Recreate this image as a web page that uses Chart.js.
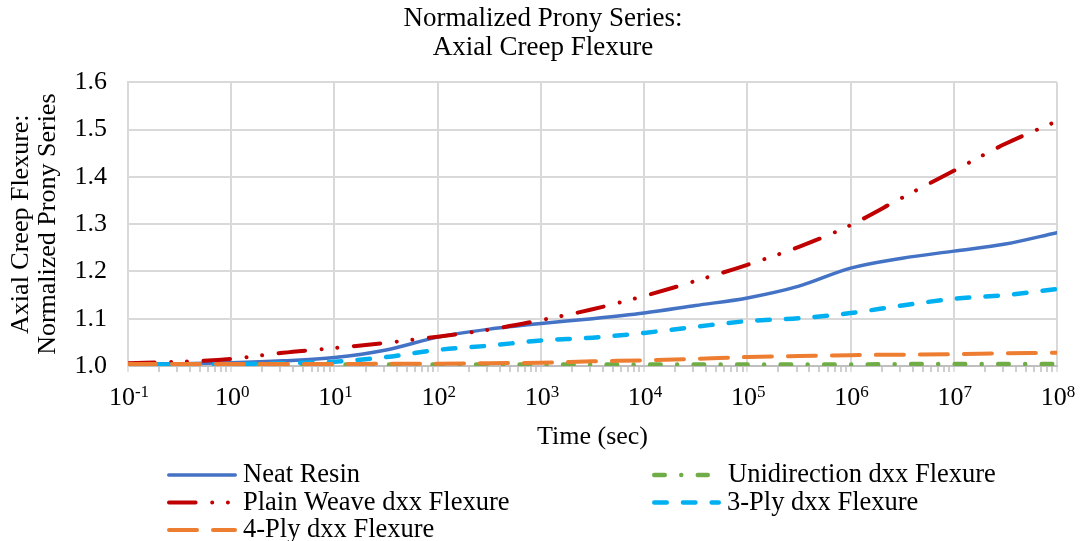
<!DOCTYPE html>
<html>
<head>
<meta charset="utf-8">
<script src="https://cdn.jsdelivr.net/npm/chart.js@4.4.1/dist/chart.umd.min.js"></script>
<style>
html,body{margin:0;padding:0;background:#fff;}
#wrap{width:1086px;height:541px;position:relative;}
</style>
</head>
<body>
<div id="wrap"><canvas id="c" width="1086" height="541"></canvas></div>
<script>
// ---- data ----
const timeExponents = [-1, -0.5, 0, 0.5, 1, 1.5, 2, 2.5, 3, 3.5, 4, 4.5, 5, 5.5, 6, 6.5, 7, 7.5, 8];
const neatResin     = [1.004, 1.005, 1.007, 1.011, 1.018, 1.034, 1.061, 1.078, 1.090, 1.100, 1.112, 1.128, 1.144, 1.169, 1.207, 1.228, 1.243, 1.258, 1.282];
const unidirection  = [1.003, 1.003, 1.003, 1.003, 1.003, 1.003, 1.003, 1.003, 1.003, 1.003, 1.003, 1.003, 1.003, 1.003, 1.003, 1.004, 1.004, 1.004, 1.004];
const plainWeave    = [1.006, 1.009, 1.015, 1.028, 1.038, 1.049, 1.062, 1.077, 1.097, 1.120, 1.148, 1.180, 1.214, 1.252, 1.298, 1.356, 1.413, 1.470, 1.518];
const threePly      = [1.003, 1.003, 1.004, 1.006, 1.009, 1.019, 1.034, 1.043, 1.054, 1.060, 1.070, 1.083, 1.095, 1.101, 1.112, 1.128, 1.142, 1.150, 1.163];
const fourPly       = [1.004, 1.004, 1.004, 1.004, 1.004, 1.005, 1.005, 1.006, 1.007, 1.010, 1.012, 1.015, 1.019, 1.021, 1.023, 1.024, 1.025, 1.027, 1.028];
const seriesNames   = ['Neat Resin', 'Unidirection dxx Flexure', 'Plain Weave dxx Flexure', '3-Ply dxx Flexure', '4-Ply dxx Flexure'];
const xTickExponents = [-1, 0, 1, 2, 3, 4, 5, 6, 7, 8];
const xMinorMultipliers = [1, 2, 3, 4, 5, 6, 7, 8, 9];
const yTickValues = [1.0, 1.1, 1.2, 1.3, 1.4, 1.5, 1.6];
const yTickLabels = ['1.0', '1.1', '1.2', '1.3', '1.4', '1.5', '1.6'];
const chartTitle = ['Normalized Prony Series:', 'Axial Creep Flexure'];
const yTitle = ['Axial Creep Flexure:', 'Normalized Prony Series'];
const xTitle = 'Time (sec)';

// ---- styling ----
const FONT = "'Liberation Serif', 'Times New Roman', serif";
const seriesColors = ['#4472C4', '#70AD47', '#C00000', '#00B0F0', '#ED7D31'];
const seriesWidths = [3.5, 4.5, 4, 4.5, 4];
const seriesDashes = [[], [10.5, 16.5, 0.01, 16.5], [26.6, 16.6, 0.01, 15.7, 0.01, 16.6], [12.5, 16.2], [28, 16]];
const seriesOrder = [5, 4, 3, 2, 1];
const seriesValues = [neatResin, unidirection, plainWeave, threePly, fourPly];

// legend placement (pixels)
const legendSlots = [
  {x1: 167, x2: 237, tx: 243, y: 482},
  {x1: 652, x2: 710, tx: 728, y: 482},
  {x1: 167, x2: 237, tx: 243, y: 509.5},
  {x1: 652, x2: 721, tx: 727, y: 509.5},
  {x1: 167, x2: 237, tx: 243, y: 537}
];

function isDecade(v) {
  if (!(v > 0)) return false;
  const l = Math.log10(v);
  return Math.abs(l - Math.round(l)) < 1e-9;
}

const datasets = seriesNames.map((name, i) => ({
  label: name,
  data: timeExponents.map((e, k) => ({x: Math.pow(10, e), y: seriesValues[i][k]})),
  borderColor: seriesColors[i],
  backgroundColor: seriesColors[i],
  borderWidth: seriesWidths[i],
  borderDash: seriesDashes[i],
  borderCapStyle: 'round',
  borderJoinStyle: 'round',
  pointRadius: 0,
  pointHoverRadius: 0,
  cubicInterpolationMode: 'monotone',
  fill: false,
  order: seriesOrder[i],
  xAxisID: 'x',
  yAxisID: 'y'
}));

const customPlugin = {
  id: 'customDraw',
  afterDraw(chart) {
    const ctx = chart.ctx;
    const xs = chart.scales.x;
    // x tick labels with superscript exponents
    ctx.save();
    ctx.fillStyle = '#000';
    ctx.textBaseline = 'alphabetic';
    ctx.textAlign = 'left';
    xTickExponents.forEach(e => {
      const px = xs.getPixelForValue(Math.pow(10, e));
      ctx.font = '26px ' + FONT;
      const w1 = ctx.measureText('10').width;
      ctx.font = '17px ' + FONT;
      const ex = String(e);
      const w2 = ctx.measureText(ex).width;
      const start = px - (w1 + w2) / 2 + 1;
      ctx.font = '26px ' + FONT;
      ctx.fillText('10', start, 405);
      ctx.font = '17px ' + FONT;
      ctx.fillText(ex, start + w1, 396.5);
    });
    ctx.restore();

    // legend
    ctx.save();
    chart.data.datasets.forEach((ds, i) => {
      const s = legendSlots[i];
      const r = ds.borderWidth / 2;
      const ly = s.y - 7;
      ctx.beginPath();
      ctx.setLineDash(ds.borderDash || []);
      ctx.lineDashOffset = 0;
      ctx.lineCap = 'round';
      ctx.lineWidth = ds.borderWidth;
      ctx.strokeStyle = ds.borderColor;
      ctx.moveTo(s.x1 + r, ly);
      ctx.lineTo(s.x2 - r, ly);
      ctx.stroke();
      ctx.setLineDash([]);
      ctx.font = '26.5px ' + FONT;
      ctx.fillStyle = '#000';
      ctx.textAlign = 'left';
      ctx.textBaseline = 'alphabetic';
      ctx.fillText(ds.label, s.tx, s.y);
    });
    ctx.restore();
  }
};

Chart.defaults.font.family = FONT;
Chart.defaults.color = '#000';

new Chart(document.getElementById('c'), {
  type: 'line',
  data: {datasets},
  options: {
    responsive: false,
    animation: false,
    devicePixelRatio: 1,
    events: [],
    layout: {padding: {left: 0, right: 0, top: 0, bottom: 87}},
    plugins: {
      legend: {display: false},
      tooltip: {enabled: false},
      title: {
        display: true,
        text: chartTitle,
        color: '#000',
        font: {size: 27, weight: 'normal', lineHeight: 1.08, family: FONT},
        padding: {top: 4, bottom: 20}
      }
    },
    scales: {
      x: {
        type: 'logarithmic',
        min: 0.1,
        max: 1e8,
        afterBuildTicks(scale) {
          const t = [];
          for (let e = xTickExponents[0]; e < xTickExponents[xTickExponents.length - 1]; e++) {
            xMinorMultipliers.forEach(m => t.push({value: m * Math.pow(10, e)}));
          }
          t.push({value: Math.pow(10, xTickExponents[xTickExponents.length - 1])});
          scale.ticks = t;
        },
        afterFit(scale) { scale.height = 88; },
        ticks: {autoSkip: false, maxRotation: 0, minRotation: 0, callback: () => '', padding: 0},
        grid: {
          color: c => (c.tick && isDecade(c.tick.value)) ? '#d9d9d9' : 'rgba(0,0,0,0)',
          lineWidth: 2,
          tickLength: 6,
          tickWidth: 1.5,
          tickColor: c => (c.tick && isDecade(c.tick.value)) ? '#d9d9d9' : '#bfbfbf'
        },
        border: {color: '#bfbfbf', width: 2},
        title: {
          display: true,
          text: xTitle,
          color: '#000',
          font: {size: 26, lineHeight: 1.2, family: FONT},
          padding: {top: 0, bottom: 1}
        }
      },
      y: {
        type: 'linear',
        position: 'left',
        min: 1.0,
        max: 1.6,
        afterBuildTicks(scale) { scale.ticks = yTickValues.map(v => ({value: v})); },
        afterFit(scale) { scale.width = 128; },
        ticks: {
          callback: (v) => {
            const idx = yTickValues.findIndex(t => Math.abs(t - v) < 1e-9);
            return idx >= 0 ? yTickLabels[idx] : '';
          },
          font: {size: 26, family: FONT},
          color: '#000',
          padding: 21
        },
        grid: {color: '#d9d9d9', lineWidth: 2, drawTicks: false},
        border: {color: '#d9d9d9', width: 2},
        title: {
          display: true,
          text: yTitle,
          color: '#000',
          font: {size: 26, lineHeight: 1.04, family: FONT},
          padding: {top: 8, bottom: 0}
        }
      },
      spacer: {
        type: 'linear',
        position: 'right',
        display: true,
        afterFit(scale) { scale.width = 29; },
        ticks: {display: false},
        grid: {display: false, drawOnChartArea: false},
        border: {display: false},
        title: {display: false}
      }
    }
  },
  plugins: [customPlugin]
});
</script>
</body>
</html>
